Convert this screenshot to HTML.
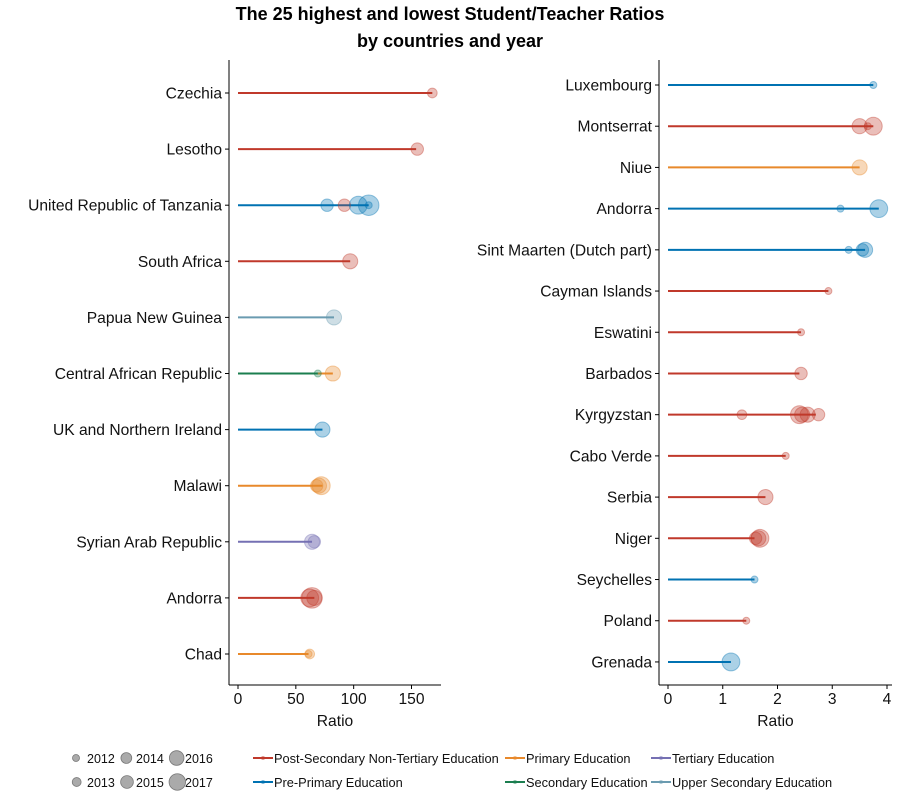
<!DOCTYPE html>
<html><head><meta charset="utf-8"><style>
body{margin:0;background:#fff;font-family:"Liberation Sans",sans-serif}
svg text{font-family:"Liberation Sans",sans-serif}
</style></head><body>
<svg id="c" width="900" height="800" xmlns="http://www.w3.org/2000/svg">
<text x="450" y="20" text-anchor="middle" font-size="18" font-weight="bold">The 25 highest and lowest Student/Teacher Ratios</text>
<text x="450" y="47" text-anchor="middle" font-size="18" font-weight="bold">by countries and year</text>
</svg>
<script>
const levels=["Post-Secondary Non-Tertiary Education","Primary Education","Tertiary Education","Pre-Primary Education","Secondary Education","Upper Secondary Education"];
const levelColors=["#c0392b","#e8892b","#7570b3","#0072b2","#1b7e4f","#6a9bb0"];
const leftCountries=["Czechia","Lesotho","United Republic of Tanzania","South Africa","Papua New Guinea","Central African Republic","UK and Northern Ireland","Malawi","Syrian Arab Republic","Andorra","Chad"];
// lines: [countryIndex, levelIndex, endValue]
const leftLines=[[0,0,168],[1,0,154],[2,3,113],[3,0,97],[4,5,83],[5,1,82],[5,4,69],[6,3,73],[7,1,73],[8,2,64],[9,0,66],[10,1,61]];
// points: [countryIndex, levelIndex, value, year]
const leftPoints=[[0,0,168,2013],[1,0,155,2014],[2,3,77,2014],[2,0,92,2014],[2,3,104,2016],[2,3,113,2017],[2,3,113,2012],[3,0,97,2015],[4,5,83,2015],[5,4,69,2012],[5,1,82,2015],[6,3,73,2015],[7,1,68,2014],[7,1,70,2015],[7,1,72,2016],[8,2,66,2014],[8,2,64,2015],[9,0,66,2015],[9,0,62,2016],[9,0,64,2017],[10,1,62,2013],[10,1,61,2012]];
const leftTicks=[0,50,100,150];
const rightCountries=["Luxembourg","Montserrat","Niue","Andorra","Sint Maarten (Dutch part)","Cayman Islands","Eswatini","Barbados","Kyrgyzstan","Cabo Verde","Serbia","Niger","Seychelles","Poland","Grenada"];
const rightLines=[[0,3,3.75],[1,0,3.75],[2,1,3.5],[3,3,3.85],[4,3,3.6],[5,0,2.93],[6,0,2.43],[7,0,2.4],[8,0,2.7],[9,0,2.15],[10,0,1.78],[11,0,1.58],[12,3,1.58],[13,0,1.43],[14,3,1.15]];
const rightPoints=[[0,3,3.75,2012],[1,0,3.5,2015],[1,0,3.75,2016],[1,0,3.65,2012],[2,1,3.5,2015],[3,3,3.15,2012],[3,3,3.85,2016],[4,3,3.3,2012],[4,3,3.6,2015],[4,3,3.55,2014],[5,0,2.93,2012],[6,0,2.43,2012],[7,0,2.43,2014],[8,0,1.35,2013],[8,0,2.75,2014],[8,0,2.55,2015],[8,0,2.45,2015],[8,0,2.4,2016],[9,0,2.15,2012],[10,0,1.78,2015],[11,0,1.6,2014],[11,0,1.68,2016],[11,0,1.65,2015],[12,3,1.58,2012],[13,0,1.43,2012],[14,3,1.15,2016]];
const rightTicks=[0,1,2,3,4];
const years=[2012,2013,2014,2015,2016,2017];

const svg=document.getElementById('c');
const NS="http://www.w3.org/2000/svg";
function mk(t,a,parent){const e=document.createElementNS(NS,t);for(const k in a)e.setAttribute(k,a[k]);(parent||svg).appendChild(e);return e;}
function rad(y){return 3.5+(y-2012)*1.35;}

function panel(cfg){
  const {countries,lines,points,ticks,x0,x1,vmax,axisX,yTop,yBot,rowTop,rowStep,name}=cfg;
  const g=mk('g',{});
  
  
  const sx=v=>x0+(v/vmax)*(x1-x0);
  const sy=i=>rowTop+i*rowStep;
  const ya=mk('line',{x1:axisX,y1:yTop,x2:axisX,y2:yBot,stroke:'#000','stroke-width':1},g);
  
  const xa=mk('line',{x1:axisX,y1:yBot,x2:cfg.axisEnd,y2:yBot,stroke:'#000','stroke-width':1},g);
  
  countries.forEach((c,i)=>{
    const t=mk('text',{x:axisX-7,y:sy(i)+5.5,'text-anchor':'end','font-size':15.6,fill:'#111'},g);t.textContent=c;
    
    mk('line',{x1:axisX-4,y1:sy(i),x2:axisX,y2:sy(i),stroke:'#000'},g);
  });
  ticks.forEach(v=>{
    mk('line',{x1:sx(v),y1:yBot,x2:sx(v),y2:yBot+4,stroke:'#000'},g);
    const t=mk('text',{x:sx(v),y:yBot+19,'text-anchor':'middle','font-size':15.6,fill:'#111'},g);t.textContent=v;
    
  });
  const xt=mk('text',{x:(axisX+cfg.axisEnd)/2,y:yBot+41,'text-anchor':'middle','font-size':15.6,fill:'#111'},g);xt.textContent='Ratio';
  
  const sorted=lines.slice().sort((a,b)=>b[2]-a[2]);
  sorted.forEach(l=>{
    const e=mk('line',{x1:sx(0),y1:sy(l[0]),x2:sx(l[2]),y2:sy(l[0]),stroke:levelColors[l[1]],'stroke-width':2},g);
    
  });
  points.forEach(p=>{
    const col=levelColors[p[1]];
    const e=mk('circle',{cx:sx(p[2]),cy:sy(p[0]),r:rad(p[3]),fill:col,'fill-opacity':0.33,stroke:col,'stroke-opacity':0.4,'stroke-width':1},g);
    
  });
}
panel({name:'left-panel',countries:leftCountries,lines:leftLines,points:leftPoints,ticks:leftTicks,x0:238,x1:411.5,vmax:150,axisX:229,axisEnd:441,yTop:60,yBot:685,rowTop:93,rowStep:56.1});
panel({name:'right-panel',countries:rightCountries,lines:rightLines,points:rightPoints,ticks:rightTicks,x0:668,x1:887,vmax:4,axisX:659,axisEnd:892,yTop:60,yBot:685,rowTop:85,rowStep:41.21});

// size legend
const sl=mk('g',{});

years.forEach((y,i)=>{
  const col=Math.floor(i/2),row=i%2;
  const cx=76+col*49,cy=758+row*24;
  const r=3.5+(y-2012)*0.95;
  mk('circle',{cx:cx+(r-3.5)*0.7,cy:cy,r:r,fill:'#aaa',stroke:'#777','stroke-width':0.8},sl);
  const t=mk('text',{x:cx+11,y:cy+5,'font-size':12.5,fill:'#111'},sl);t.textContent=y;
  
});
// color legend
const legPos=[[253,758],[505,758],[651,758],[253,782],[505,782],[651,782]];
const legOrder=[0,1,2,3,4,5];
const cl=mk('g',{});

legOrder.forEach((li,k)=>{
  const [x,y]=legPos[k];
  mk('line',{x1:x,y1:y,x2:x+20,y2:y,stroke:levelColors[li],'stroke-width':2},cl);
  mk('circle',{cx:x+10,cy:y,r:2,fill:levelColors[li],'fill-opacity':0.5},cl);
  const t=mk('text',{x:x+21,y:y+5,'font-size':12.8,fill:'#111'},cl);t.textContent=levels[li];
  
});
</script>
</body></html>
